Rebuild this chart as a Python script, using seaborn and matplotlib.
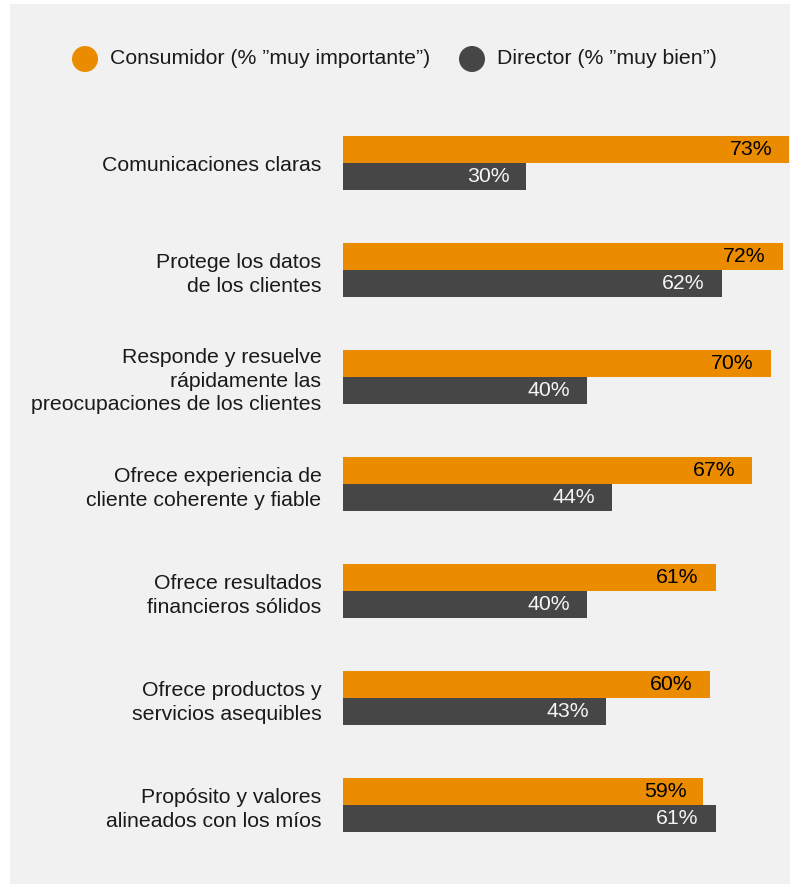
import matplotlib
matplotlib.use("Agg")
import matplotlib.pyplot as plt
from matplotlib.patches import Rectangle, Ellipse
import seaborn as sns
import pandas as pd

categories = [
    "Comunicaciones claras",
    "Protege los datos\nde los clientes",
    "Responde y resuelve\nrápidamente las\npreocupaciones de los clientes",
    "Ofrece experiencia de\ncliente coherente y fiable",
    "Ofrece resultados\nfinancieros sólidos",
    "Ofrece productos y\nservicios asequibles",
    "Propósito y valores\nalineados con los míos",
]
consumidor = [73, 72, 70, 67, 61, 60, 59]
director = [30, 62, 40, 44, 40, 43, 61]
series_names = ["Consumidor (% ”muy importante”)", "Director (% ”muy bien”)"]
colors = ["#EB8C00", "#464646"]
label_colors = ["#000000", "#F5F5F5"]

rows = []
for c, a, b in zip(categories, consumidor, director):
    rows.append({"cat": c, "serie": series_names[0], "val": a})
    rows.append({"cat": c, "serie": series_names[1], "val": b})
df = pd.DataFrame(rows)

sns.set_style("white")
plt.rcParams["font.family"] = ["Liberation Sans", "DejaVu Sans"]

W, H = 790, 884
fig = plt.figure(figsize=(W / 100, H / 100), dpi=100)
fig.patch.set_facecolor("white")
fig.patches.append(Rectangle((10 / W, 0), 1 - 10 / W, (H - 4) / H,
                             transform=fig.transFigure, facecolor="#F1F1F1",
                             edgecolor="none", zorder=-10))

top_px, bot_px = 109.5, 858.5
ax = fig.add_axes([343 / W, 1 - bot_px / H, (789 - 343) / W, (bot_px - top_px) / H])
ax.set_facecolor("none")

sns.barplot(data=df, y="cat", x="val", hue="serie", hue_order=series_names,
            order=categories, palette=colors, width=0.505, linewidth=0,
            orient="h", ax=ax, legend=False, saturation=1)

ax.set_xlim(0, 73)
ax.set_ylim(6.5, -0.5)
for s in ax.spines.values():
    s.set_visible(False)
ax.set_xticks([])
ax.set_xlabel("")
ax.set_ylabel("")
ax.tick_params(axis="y", length=0, pad=15.5)
ax.set_yticks(range(len(categories)))
ax.set_yticklabels(categories, fontsize=15.3, color="#1a1a1a", linespacing=1.3)

for cont, lc in zip(ax.containers, label_colors):
    for bar in cont:
        w = bar.get_width()
        ax.annotate(f"{w:.0f}%", (w, bar.get_y() + bar.get_height() / 2),
                    xytext=(-12.2, 0), textcoords="offset points",
                    ha="right", va="center", fontsize=15.3, color=lc)

# legend
leg_y = 1 - 59 / H
for cx, tx, col, name in [(85, 110, colors[0], series_names[0]),
                          (472, 497, colors[1], series_names[1])]:
    fig.patches.append(Ellipse((cx / W, leg_y), 26 / W, 26 / H,
                               transform=fig.transFigure, facecolor=col,
                               edgecolor="none"))
    fig.text(tx / W, leg_y, name, ha="left", va="center", fontsize=15.3,
             color="#1a1a1a")

fig.savefig("out.png", dpi=100)
